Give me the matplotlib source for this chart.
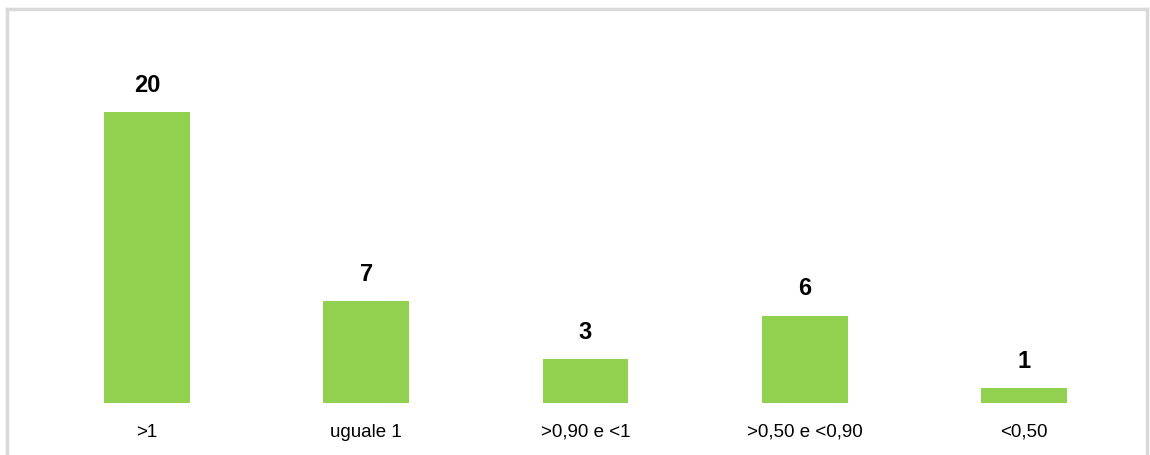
import numpy as np
import matplotlib
matplotlib.use("Agg")
from matplotlib import pyplot as plt

categories = [">1", "uguale 1", ">0,90 e <1", ">0,50 e <0,90", "<0,50"]
values = [20, 7, 3, 6, 1]

W, H = 1150, 455
plt.rcParams['font.family'] = ['Liberation Sans', 'DejaVu Sans']

fig = plt.figure(figsize=(W / 100, H / 100), dpi=100)
fig.patch.set_facecolor("white")

# background gradient inside chart frame
bg = fig.add_axes([7 / W, 0, (1147 - 7) / W, (H - 9) / H])
bg.set_axis_off()
t = np.linspace(0, 1, 200)
shade = 1 - 0.05 * np.sin(np.pi * t) ** 1.2
grad = np.dstack([shade, shade, shade])[:, :1, :].repeat(2, axis=1)
bg.imshow(grad, aspect="auto", extent=[0, 1, 0, 1], origin="lower")
bg.set_xlim(0, 1)
bg.set_ylim(0, 1)

# frame lines (top, left, right)
fig.add_artist(plt.Line2D([7 / W, 1147 / W], [1 - 9 / H, 1 - 9 / H], color="#d9d9d9", lw=2.5))
fig.add_artist(plt.Line2D([7 / W, 7 / W], [0, 1 - 9 / H], color="#d9d9d9", lw=2.5))
fig.add_artist(plt.Line2D([1147 / W, 1147 / W], [0, 1 - 9 / H], color="#d9d9d9", lw=2.5))

# main plot axes: baseline at y=403px, top at y=30px
left, right = 37.3, 1133.7
base, top = 403, 30
ax = fig.add_axes([left / W, 1 - base / H, (right - left) / W, (base - top) / H])
ax.patch.set_alpha(0)
x = np.arange(len(categories))
ax.bar(x, values, width=0.39, color="#92d050")
ax.set_xlim(-0.5, len(categories) - 0.5)
ax.set_ylim(0, (base - top) / 14.55)
for xi, v in zip(x, values):
    ax.annotate(str(v), (xi, v), xytext=(0, 11), textcoords="offset points",
                ha="center", va="bottom", fontsize=17, fontweight="bold")
ax.set_xticks(x)
ax.set_xticklabels(categories, fontsize=13.5)
ax.tick_params(axis="x", length=0, pad=15)
ax.set_yticks([])
for s in ax.spines.values():
    s.set_visible(False)

fig.savefig("out.png", dpi=100)
